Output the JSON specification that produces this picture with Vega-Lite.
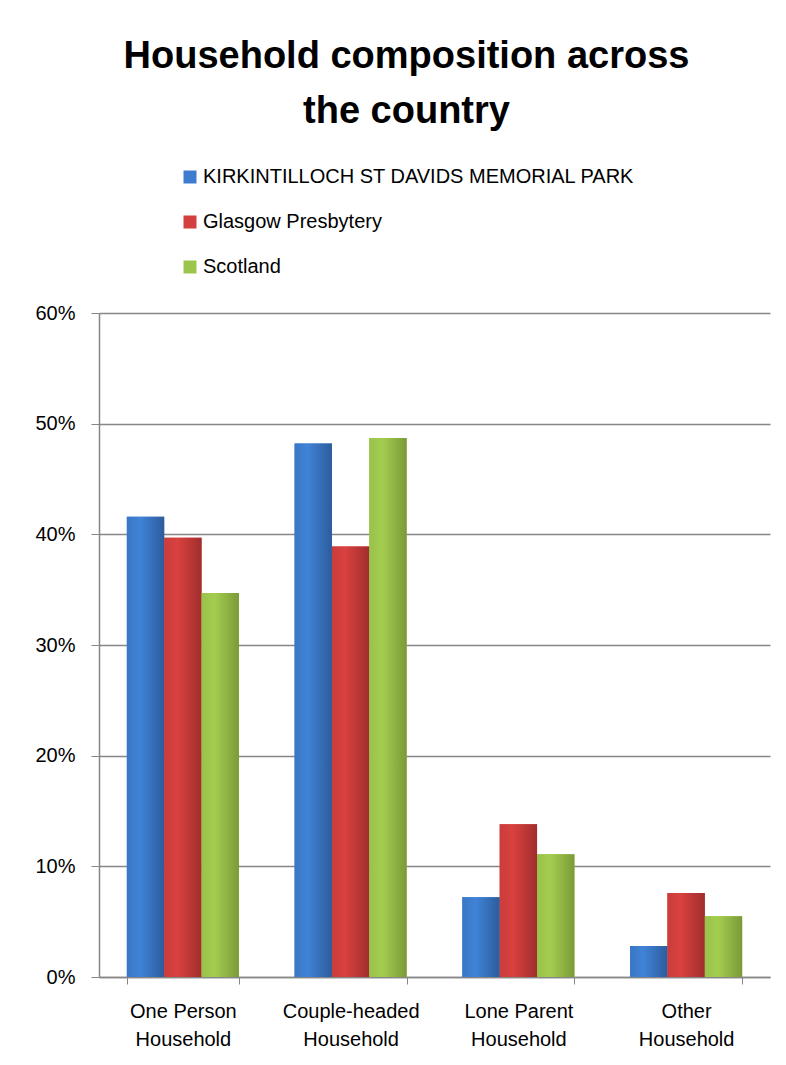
{
  "$schema": "https://vega.github.io/schema/vega-lite/v6.json",
  "autosize": "none",
  "width": 671,
  "height": 664,
  "padding": {"left": 99, "top": 313, "right": 16, "bottom": 88},
  "background": "white",
  "title": {
    "text": ["Household composition across", "the country"],
    "font": "Liberation Sans",
    "fontSize": 38,
    "fontWeight": "bold",
    "color": "#000000",
    "lineHeight": 55,
    "anchor": "middle",
    "dx": -28,
    "offset": 36
  },
  "data": {
    "values": [
      {"category": "One Person Household", "series": "KIRKINTILLOCH ST DAVIDS MEMORIAL PARK", "value": 0.416},
      {"category": "One Person Household", "series": "Glasgow Presbytery", "value": 0.397},
      {"category": "One Person Household", "series": "Scotland", "value": 0.347},
      {"category": "Couple-headed Household", "series": "KIRKINTILLOCH ST DAVIDS MEMORIAL PARK", "value": 0.482},
      {"category": "Couple-headed Household", "series": "Glasgow Presbytery", "value": 0.389},
      {"category": "Couple-headed Household", "series": "Scotland", "value": 0.487},
      {"category": "Lone Parent Household", "series": "KIRKINTILLOCH ST DAVIDS MEMORIAL PARK", "value": 0.072},
      {"category": "Lone Parent Household", "series": "Glasgow Presbytery", "value": 0.138},
      {"category": "Lone Parent Household", "series": "Scotland", "value": 0.111},
      {"category": "Other Household", "series": "KIRKINTILLOCH ST DAVIDS MEMORIAL PARK", "value": 0.028},
      {"category": "Other Household", "series": "Glasgow Presbytery", "value": 0.076},
      {"category": "Other Household", "series": "Scotland", "value": 0.055}
    ]
  },
  "encoding": {
    "x": {
      "field": "category",
      "type": "nominal",
      "sort": null,
      "title": null,
      "scale": {"paddingInner": 0.332, "paddingOuter": 0.166},
      "axis": {
        "labelAngle": 0,
        "labelExpr": "isValid(datum.value) ? [replace(datum.value, ' Household', ''), 'Household'] : ''",
        "labelFont": "Liberation Sans",
        "labelFontSize": 20,
        "labelColor": "#000000",
        "labelLineHeight": 28,
        "labelPadding": 17,
        "tickBand": "extent",
        "tickSize": 7,
        "tickColor": "#868686",
        "domainColor": "#868686",
        "domainWidth": 1.5,
        "grid": false
      }
    },
    "xOffset": {"field": "series", "type": "nominal", "sort": null, "scale": {"paddingInner": 0, "paddingOuter": 0}},
    "y": {
      "field": "value",
      "type": "quantitative",
      "title": null,
      "scale": {"domain": [0, 0.6]},
      "axis": {
        "format": ".0%",
        "values": [0, 0.1, 0.2, 0.3, 0.4, 0.5, 0.6],
        "labelFont": "Liberation Sans",
        "labelFontSize": 20,
        "labelColor": "#000000",
        "labelPadding": 16,
        "tickSize": 8,
        "tickColor": "#868686",
        "domainColor": "#868686",
        "domainWidth": 1.5,
        "gridColor": "#868686",
        "gridWidth": 1.5
      }
    }
  },
  "layer": [
    {
      "mark": {"type": "bar", "stroke": null},
      "encoding": {
        "color": {
          "field": "series",
          "type": "nominal",
          "sort": null,
          "scale": {
            "domain": ["KIRKINTILLOCH ST DAVIDS MEMORIAL PARK", "Glasgow Presbytery", "Scotland"],
            "range": ["#3d7cce", "#d23f3e", "#9cc64b"]
          },
          "legend": {
            "title": null,
            "orient": "none",
            "legendX": 81,
            "legendY": -146,
            "direction": "vertical",
            "symbolType": "square",
            "symbolSize": 169,
            "symbolStrokeWidth": 0,
            "symbolOpacity": 1,
            "labelFont": "Liberation Sans",
            "labelFontSize": 20,
            "labelColor": "#000000",
            "labelLimit": 650,
            "labelOffset": 3,
            "rowPadding": 25
          }
        }
      }
    },
    {
      "mark": {"type": "bar", "stroke": null},
      "encoding": {
        "fill": {
          "condition": [
            {"test": "datum.series == 'KIRKINTILLOCH ST DAVIDS MEMORIAL PARK'", "value": {"gradient": "linear", "x1": 0, "y1": 0, "x2": 1, "y2": 0, "stops": [{"offset": 0, "color": "#3a76c4"}, {"offset": 0.35, "color": "#4083d8"}, {"offset": 1, "color": "#2c5c9c"}]}},
            {"test": "datum.series == 'Glasgow Presbytery'", "value": {"gradient": "linear", "x1": 0, "y1": 0, "x2": 1, "y2": 0, "stops": [{"offset": 0, "color": "#c93d3c"}, {"offset": 0.35, "color": "#d9413f"}, {"offset": 1, "color": "#a02e2d"}]}}
          ],
          "value": {"gradient": "linear", "x1": 0, "y1": 0, "x2": 1, "y2": 0, "stops": [{"offset": 0, "color": "#98c24a"}, {"offset": 0.35, "color": "#a4cd4f"}, {"offset": 1, "color": "#7a9a38"}]}
        }
      }
    }
  ],
  "config": {
    "view": {"stroke": null}
  }
}
